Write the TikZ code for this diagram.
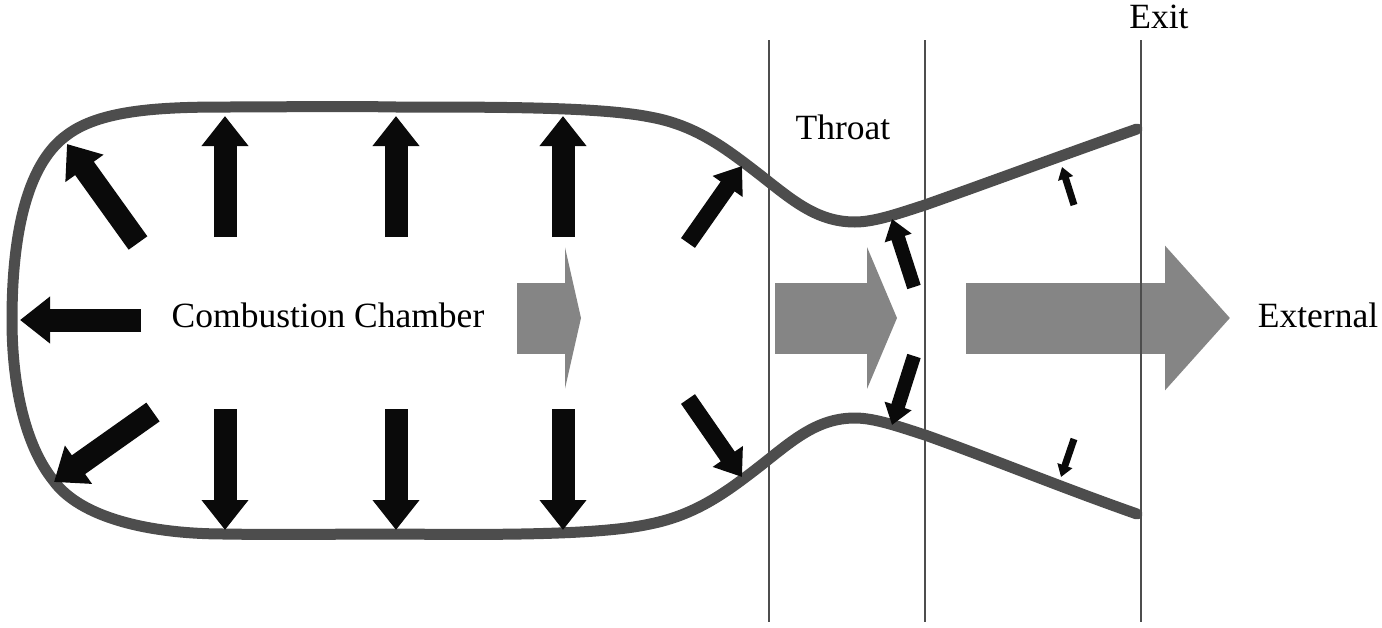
\documentclass[tikz,border=0pt]{standalone}
\usepackage{fontspec}
\setmainfont{Liberation Serif}
\usetikzlibrary{arrows.meta}
\definecolor{wallgray}{HTML}{4D4D4D}
\definecolor{flowgray}{HTML}{858585}
\definecolor{forceblack}{HTML}{0A0A0A}
\begin{document}
\begin{tikzpicture}[
x=1pt,
y=-1pt,
every node/.style={
inner sep=0pt,
font=\fontsize{35.5}{40}\selectfont
},
wallline/.style={draw=wallgray, line width=11pt, line cap=round},
station/.style={draw=wallgray, line width=1.3pt},
flow/.style={draw=flowgray, line width=71pt, -{Triangle[width=141pt,length=#1,fill=flowgray]}},
forcebig/.style={draw=forceblack, line width=23pt, -{Triangle[width=45pt,length=30pt,fill=forceblack]}},
forcemid/.style={draw=forceblack, line width=17pt, -{Triangle[width=35pt,length=25pt,fill=forceblack]}},
forcesmall/.style={draw=forceblack, line width=14pt, -{Triangle[width=27pt,length=20pt,fill=forceblack]}},
forcetiny/.style={draw=forceblack, line width=7pt, -{Triangle[width=15pt,length=12pt,fill=forceblack]}}
]
\useasboundingbox (0,0) rectangle (1382,627);
% nozzle wall
\draw[wallline] (1137,129) .. controls (1060,156) and (990,182) .. (925,205)
.. controls (900,213) and (875,222) .. (855,222)
.. controls (815,222) and (790,198) .. (755,171)
.. controls (725,148) and (695,125) .. (650,117)
.. controls (600,107) and (500,107) .. (396,107)
.. controls (340,106) and (280,107) .. (225,107)
.. controls (160,107) and (100,110) .. (67,135)
.. controls (25,165) and (12,240) .. (12,320)
.. controls (12,385) and (25,445) .. (53,480)
.. controls (80,518) and (150,534) .. (225,534)
.. controls (280,535) and (340,534) .. (396,534)
.. controls (500,535) and (600,535) .. (650,524)
.. controls (695,515) and (725,493) .. (755,470)
.. controls (790,443) and (815,418) .. (855,418)
.. controls (875,418) and (900,427) .. (925,435)
.. controls (990,458) and (1060,487) .. (1137,514);
% gas flow
\draw[flow=16pt] (517,318) -- (581,318);
\draw[flow=30pt] (775,318) -- (897,318);
\draw[flow=65pt] (966,318) -- (1230,318);
% pressure on the walls
\draw[forcebig] (225,237) -- (225,116);
\draw[forcebig] (396,237) -- (396,116);
\draw[forcebig] (563,237) -- (563,116);
\draw[forcebig] (225,409) -- (225,530);
\draw[forcebig] (396,409) -- (396,530);
\draw[forcebig] (563,409) -- (563,530);
\draw[forcebig] (141,320) -- (20,320);
\draw[forcebig] (138,243) -- (67,144);
\draw[forcebig] (153,412) -- (54,482);
\draw[forcemid] (688,243) -- (742,166);
\draw[forcemid] (688,399) -- (742,477);
\draw[forcesmall] (914,287) -- (892,219);
\draw[forcesmall] (914,356) -- (892,425);
\draw[forcetiny] (1074,205) -- (1062,167);
\draw[forcetiny] (1074,439) -- (1061,477);
% stations
\draw[station] (769,40) -- (769,622);
\draw[station] (925,40) -- (925,622);
\draw[station] (1141,40) -- (1141,622);
% labels
\node (chamber) at (328,315) {Combustion Chamber};
\node (throat) at (843,127) {Throat};
\node (exit) at (1159,17) {Exit};
\node (external) at (1318,315) {External};
\end{tikzpicture}
\end{document}
